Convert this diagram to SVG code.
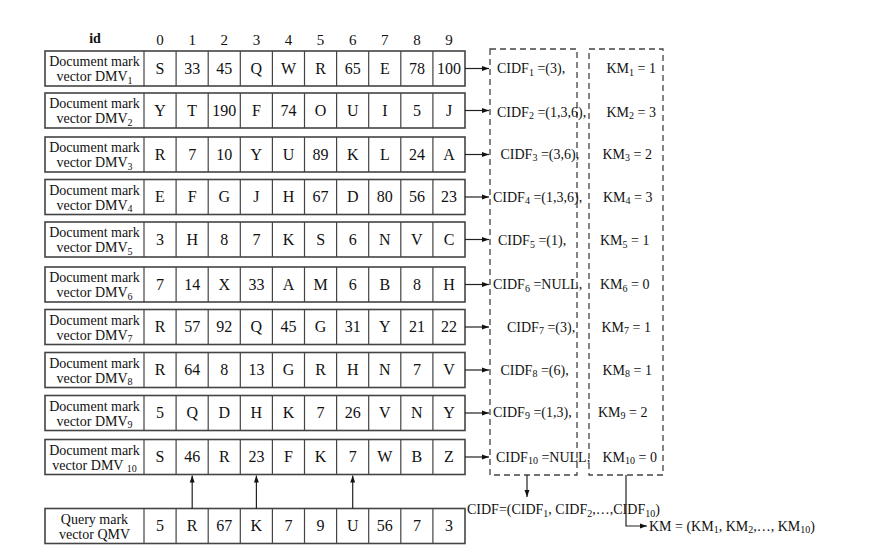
<svg xmlns="http://www.w3.org/2000/svg" xmlns:xlink="http://www.w3.org/1999/xlink" width="871" height="558" viewBox="0 0 871 558">
<style>
text{font-family:"Liberation Serif","Times New Roman",serif;fill:#111}
.hdr{font-size:15px;text-anchor:middle}
.hid{font-size:14px;font-weight:bold;text-anchor:middle}
.lbl{font-size:14px;text-anchor:middle}
.cell{font-size:16px;text-anchor:middle}
.note{font-size:14px}
.sub{font-size:10px}
.row{fill:#fff;stroke:#444;stroke-width:1.6}
.grid{fill:none;stroke:#444;stroke-width:1.2}
.dash{fill:none;stroke:#444;stroke-width:1.3;stroke-dasharray:6 4}
.con{fill:none;stroke:#222;stroke-width:1.2}
</style>
<defs>
<marker id="ah" viewBox="0 0 10 10" refX="10" refY="5" markerWidth="7" markerHeight="7" markerUnits="userSpaceOnUse" orient="auto">
<path d="M0 1.5L10 5L0 8.5z" fill="#111"/>
</marker>
<g id="frame">
<rect class="row" x="45" y="0" width="420" height="35"/>
<path class="grid" d="M144 0v35M176.1 0v35M208.2 0v35M240.3 0v35M272.4 0v35M304.5 0v35M336.6 0v35M368.7 0v35M400.8 0v35M432.9 0v35"/>
</g>
</defs>
<rect width="871" height="558" fill="#fff"/>

<g id="header">
<text class="hid" x="95" y="43">id</text>
<text class="hdr" y="45"><tspan x="160">0</tspan><tspan x="192.2">1</tspan><tspan x="224.3">2</tspan><tspan x="256.4">3</tspan><tspan x="288.5">4</tspan><tspan x="320.6">5</tspan><tspan x="352.7">6</tspan><tspan x="384.8">7</tspan><tspan x="416.9">8</tspan><tspan x="449">9</tspan></text>
</g>

<g id="dmv1" transform="translate(0,51)">
<use xlink:href="#frame"/>
<text class="lbl" x="94.5" y="15">Document mark</text>
<text class="lbl" x="94.5" y="30">vector DMV<tspan class="sub" dy="2.5">1</tspan></text>
<text class="cell" y="22.5"><tspan x="160">S</tspan><tspan x="192.2">33</tspan><tspan x="224.3">45</tspan><tspan x="256.4">Q</tspan><tspan x="288.5">W</tspan><tspan x="320.6">R</tspan><tspan x="352.7">65</tspan><tspan x="384.8">E</tspan><tspan x="416.9">78</tspan><tspan x="449">100</tspan></text>
</g>
<g id="dmv2" transform="translate(0,93)">
<use xlink:href="#frame"/>
<text class="lbl" x="94.5" y="15">Document mark</text>
<text class="lbl" x="94.5" y="30">vector DMV<tspan class="sub" dy="2.5">2</tspan></text>
<text class="cell" y="22.5"><tspan x="160">Y</tspan><tspan x="192.2">T</tspan><tspan x="224.3">190</tspan><tspan x="256.4">F</tspan><tspan x="288.5">74</tspan><tspan x="320.6">O</tspan><tspan x="352.7">U</tspan><tspan x="384.8">I</tspan><tspan x="416.9">5</tspan><tspan x="449">J</tspan></text>
</g>
<g id="dmv3" transform="translate(0,137)">
<use xlink:href="#frame"/>
<text class="lbl" x="94.5" y="15">Document mark</text>
<text class="lbl" x="94.5" y="30">vector DMV<tspan class="sub" dy="2.5">3</tspan></text>
<text class="cell" y="22.5"><tspan x="160">R</tspan><tspan x="192.2">7</tspan><tspan x="224.3">10</tspan><tspan x="256.4">Y</tspan><tspan x="288.5">U</tspan><tspan x="320.6">89</tspan><tspan x="352.7">K</tspan><tspan x="384.8">L</tspan><tspan x="416.9">24</tspan><tspan x="449">A</tspan></text>
</g>
<g id="dmv4" transform="translate(0,179.5)">
<use xlink:href="#frame"/>
<text class="lbl" x="94.5" y="15">Document mark</text>
<text class="lbl" x="94.5" y="30">vector DMV<tspan class="sub" dy="2.5">4</tspan></text>
<text class="cell" y="22.5"><tspan x="160">E</tspan><tspan x="192.2">F</tspan><tspan x="224.3">G</tspan><tspan x="256.4">J</tspan><tspan x="288.5">H</tspan><tspan x="320.6">67</tspan><tspan x="352.7">D</tspan><tspan x="384.8">80</tspan><tspan x="416.9">56</tspan><tspan x="449">23</tspan></text>
</g>
<g id="dmv5" transform="translate(0,222)">
<use xlink:href="#frame"/>
<text class="lbl" x="94.5" y="15">Document mark</text>
<text class="lbl" x="94.5" y="30">vector DMV<tspan class="sub" dy="2.5">5</tspan></text>
<text class="cell" y="22.5"><tspan x="160">3</tspan><tspan x="192.2">H</tspan><tspan x="224.3">8</tspan><tspan x="256.4">7</tspan><tspan x="288.5">K</tspan><tspan x="320.6">S</tspan><tspan x="352.7">6</tspan><tspan x="384.8">N</tspan><tspan x="416.9">V</tspan><tspan x="449">C</tspan></text>
</g>
<g id="dmv6" transform="translate(0,267)">
<use xlink:href="#frame"/>
<text class="lbl" x="94.5" y="15">Document mark</text>
<text class="lbl" x="94.5" y="30">vector DMV<tspan class="sub" dy="2.5">6</tspan></text>
<text class="cell" y="22.5"><tspan x="160">7</tspan><tspan x="192.2">14</tspan><tspan x="224.3">X</tspan><tspan x="256.4">33</tspan><tspan x="288.5">A</tspan><tspan x="320.6">M</tspan><tspan x="352.7">6</tspan><tspan x="384.8">B</tspan><tspan x="416.9">8</tspan><tspan x="449">H</tspan></text>
</g>
<g id="dmv7" transform="translate(0,309.5)">
<use xlink:href="#frame"/>
<text class="lbl" x="94.5" y="15">Document mark</text>
<text class="lbl" x="94.5" y="30">vector DMV<tspan class="sub" dy="2.5">7</tspan></text>
<text class="cell" y="22.5"><tspan x="160">R</tspan><tspan x="192.2">57</tspan><tspan x="224.3">92</tspan><tspan x="256.4">Q</tspan><tspan x="288.5">45</tspan><tspan x="320.6">G</tspan><tspan x="352.7">31</tspan><tspan x="384.8">Y</tspan><tspan x="416.9">21</tspan><tspan x="449">22</tspan></text>
</g>
<g id="dmv8" transform="translate(0,352.5)">
<use xlink:href="#frame"/>
<text class="lbl" x="94.5" y="15">Document mark</text>
<text class="lbl" x="94.5" y="30">vector DMV<tspan class="sub" dy="2.5">8</tspan></text>
<text class="cell" y="22.5"><tspan x="160">R</tspan><tspan x="192.2">64</tspan><tspan x="224.3">8</tspan><tspan x="256.4">13</tspan><tspan x="288.5">G</tspan><tspan x="320.6">R</tspan><tspan x="352.7">H</tspan><tspan x="384.8">N</tspan><tspan x="416.9">7</tspan><tspan x="449">V</tspan></text>
</g>
<g id="dmv9" transform="translate(0,395.5)">
<use xlink:href="#frame"/>
<text class="lbl" x="94.5" y="15">Document mark</text>
<text class="lbl" x="94.5" y="30">vector DMV<tspan class="sub" dy="2.5">9</tspan></text>
<text class="cell" y="22.5"><tspan x="160">5</tspan><tspan x="192.2">Q</tspan><tspan x="224.3">D</tspan><tspan x="256.4">H</tspan><tspan x="288.5">K</tspan><tspan x="320.6">7</tspan><tspan x="352.7">26</tspan><tspan x="384.8">V</tspan><tspan x="416.9">N</tspan><tspan x="449">Y</tspan></text>
</g>
<g id="dmv10" transform="translate(0,439.5)">
<use xlink:href="#frame"/>
<text class="lbl" x="94.5" y="15">Document mark</text>
<text class="lbl" x="94.5" y="30">vector DMV <tspan class="sub" dy="2.5">10</tspan></text>
<text class="cell" y="22.5"><tspan x="160">S</tspan><tspan x="192.2">46</tspan><tspan x="224.3">R</tspan><tspan x="256.4">23</tspan><tspan x="288.5">F</tspan><tspan x="320.6">K</tspan><tspan x="352.7">7</tspan><tspan x="384.8">W</tspan><tspan x="416.9">B</tspan><tspan x="449">Z</tspan></text>
</g>
<g id="qmv" transform="translate(0,508.5)">
<use xlink:href="#frame"/>
<text class="lbl" x="94.5" y="15">Query mark</text>
<text class="lbl" x="94.5" y="30">vector QMV</text>
<text class="cell" y="22.5"><tspan x="160">5</tspan><tspan x="192.2">R</tspan><tspan x="224.3">67</tspan><tspan x="256.4">K</tspan><tspan x="288.5">7</tspan><tspan x="320.6">9</tspan><tspan x="352.7">U</tspan><tspan x="384.8">56</tspan><tspan x="416.9">7</tspan><tspan x="449">3</tspan></text>
</g>

<g id="cidf-box">
<rect class="dash" x="490" y="49" width="87" height="426"/>
<text class="note" x="497" y="73">CIDF<tspan class="sub" dy="2.5">1</tspan><tspan dy="-2.5"> =(3),</tspan></text>
<text class="note" x="497" y="116.5">CIDF<tspan class="sub" dy="2.5">2</tspan><tspan dy="-2.5"> =(1,3,6),</tspan></text>
<text class="note" x="500.5" y="158.5">CIDF<tspan class="sub" dy="2.5">3</tspan><tspan dy="-2.5"> =(3,6),</tspan></text>
<text class="note" x="493" y="201.5">CIDF<tspan class="sub" dy="2.5">4</tspan><tspan dy="-2.5"> =(1,3,6),</tspan></text>
<text class="note" x="498" y="245">CIDF<tspan class="sub" dy="2.5">5</tspan><tspan dy="-2.5"> =(1),</tspan></text>
<text class="note" x="493" y="289">CIDF<tspan class="sub" dy="2.5">6</tspan><tspan dy="-2.5"> =NULL,</tspan></text>
<text class="note" x="507" y="331.5">CIDF<tspan class="sub" dy="2.5">7</tspan><tspan dy="-2.5"> =(3),</tspan></text>
<text class="note" x="500.5" y="374.5">CIDF<tspan class="sub" dy="2.5">8</tspan><tspan dy="-2.5"> =(6),</tspan></text>
<text class="note" x="493" y="416.5">CIDF<tspan class="sub" dy="2.5">9</tspan><tspan dy="-2.5"> =(1,3),</tspan></text>
<text class="note" x="496" y="461.5">CIDF<tspan class="sub" dy="2.5">10</tspan><tspan dy="-2.5"> =NULL,</tspan></text>
</g>

<g id="km-box">
<rect class="dash" x="589" y="49" width="74" height="426"/>
<text class="note" x="606.5" y="73">KM<tspan class="sub" dy="2.5">1</tspan><tspan dy="-2.5"> = 1</tspan></text>
<text class="note" x="606.5" y="116.5">KM<tspan class="sub" dy="2.5">2</tspan><tspan dy="-2.5"> = 3</tspan></text>
<text class="note" x="602.5" y="158.5">KM<tspan class="sub" dy="2.5">3</tspan><tspan dy="-2.5"> = 2</tspan></text>
<text class="note" x="603" y="201.5">KM<tspan class="sub" dy="2.5">4</tspan><tspan dy="-2.5"> = 3</tspan></text>
<text class="note" x="600" y="245">KM<tspan class="sub" dy="2.5">5</tspan><tspan dy="-2.5"> = 1</tspan></text>
<text class="note" x="600" y="289">KM<tspan class="sub" dy="2.5">6</tspan><tspan dy="-2.5"> = 0</tspan></text>
<text class="note" x="601.5" y="331.5">KM<tspan class="sub" dy="2.5">7</tspan><tspan dy="-2.5"> = 1</tspan></text>
<text class="note" x="602.5" y="374.5">KM<tspan class="sub" dy="2.5">8</tspan><tspan dy="-2.5"> = 1</tspan></text>
<text class="note" x="598" y="416.5">KM<tspan class="sub" dy="2.5">9</tspan><tspan dy="-2.5"> = 2</tspan></text>
<text class="note" x="602.5" y="461.5">KM<tspan class="sub" dy="2.5">10</tspan><tspan dy="-2.5"> = 0</tspan></text>
</g>

<g id="cidf-result">
<text class="note" x="467" y="514">CIDF=(CIDF<tspan class="sub" dy="2.5">1</tspan><tspan dy="-2.5">, CIDF</tspan><tspan class="sub" dy="2.5">2</tspan><tspan dy="-2.5">,…,CIDF</tspan><tspan class="sub" dy="2.5">10</tspan><tspan dy="-2.5">)</tspan></text>
</g>
<g id="km-result">
<text class="note" x="649" y="530.5">KM = (KM<tspan class="sub" dy="2.5">1</tspan><tspan dy="-2.5">, KM</tspan><tspan class="sub" dy="2.5">2</tspan><tspan dy="-2.5">,…, KM</tspan><tspan class="sub" dy="2.5">10</tspan><tspan dy="-2.5">)</tspan></text>
</g>

<g id="connectors">
<path class="con" marker-end="url(#ah)" d="M465 68.5H489"/>
<path class="con" marker-end="url(#ah)" d="M465 110.5H489"/>
<path class="con" marker-end="url(#ah)" d="M465 154.5H489"/>
<path class="con" marker-end="url(#ah)" d="M465 197H489"/>
<path class="con" marker-end="url(#ah)" d="M465 239.5H489"/>
<path class="con" marker-end="url(#ah)" d="M465 284.5H489"/>
<path class="con" marker-end="url(#ah)" d="M465 327H489"/>
<path class="con" marker-end="url(#ah)" d="M465 370H489"/>
<path class="con" marker-end="url(#ah)" d="M465 413H489"/>
<path class="con" marker-end="url(#ah)" d="M465 457H489"/>
<path class="con" marker-end="url(#ah)" d="M192.2 508.5V475.5"/>
<path class="con" marker-end="url(#ah)" d="M256.4 508.5V475.5"/>
<path class="con" marker-end="url(#ah)" d="M352.7 508.5V475.5"/>
<path class="con" marker-end="url(#ah)" d="M527 475V497"/>
<path class="con" marker-end="url(#ah)" d="M626 475V526H647"/>
</g>
</svg>
